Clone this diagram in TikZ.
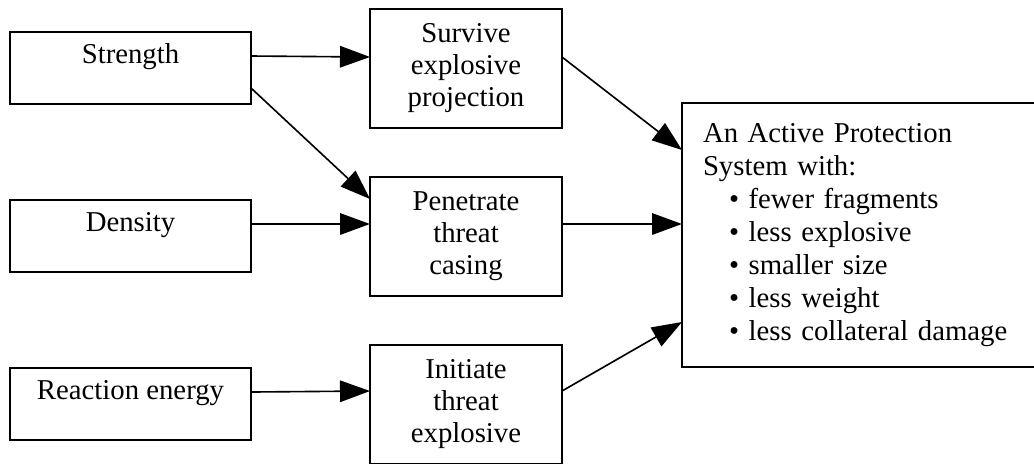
\documentclass[tikz,border=0pt]{standalone}
\usepackage{fontspec}
\setmainfont{Liberation Serif}
\usetikzlibrary{arrows.meta}
\newlength{\px}
\setlength{\px}{0.4pt}

\begin{document}
\begin{tikzpicture}[x=0.4pt, y=-0.4pt, >={Triangle[length=12pt, width=8.6pt]},
  factor/.style={draw, line width=0.8pt, anchor=north west, inner sep=0pt, outer sep=0pt,
    minimum width=241\px, text height=31\px, text depth=41\px,
    font=\fontsize{11.5}{12.8}\selectfont},
  effect/.style={draw, line width=0.8pt, anchor=north west, inner sep=0pt, outer sep=0pt,
    minimum width=192\px, minimum height=119\px, align=center,
    font=\fontsize{11.5}{12.8}\selectfont},
  outcome/.style={draw, line width=0.8pt, anchor=north west, inner xsep=21\px,
    inner ysep=0pt, outer sep=0pt, text width=340\px, minimum height=264\px,
    align=left, font=\fontsize{11.5}{13.2}\selectfont},
  link/.style={->, line width=0.65pt}]

  % page frame (pixels of the original drawing)
  \useasboundingbox (0,0) rectangle (1034,463);

  % material properties (left column)
  \node[factor] (strength) at (10,32)  {Strength};
  \node[factor] (density)  at (10,200) {Density};
  \node[factor] (reaction) at (10,368) {Reaction energy};

  % what the fragment must do (middle column)
  \node[effect] (survive)   at (370,9)   {Survive\\explosive\\projection};
  \node[effect] (penetrate) at (370,177) {Penetrate\\threat\\casing};
  \node[effect] (initiate)  at (370,345) {Initiate\\threat\\explosive};

  % resulting system (right)
  \node[outcome] (aps) at (682,103)
    {An Active Protection\\
     System with:\\
     \hspace*{26\px}\textbullet{} fewer fragments\\
     \hspace*{26\px}\textbullet{} less explosive\\
     \hspace*{26\px}\textbullet{} smaller size\\
     \hspace*{26\px}\textbullet{} less weight\\
     \hspace*{26\px}\textbullet{} less collateral damage};

  % left -> middle
  \draw[link] ([yshift=12\px]strength.east) -- ([yshift=11.5\px]survive.west);
  \draw[link] ([yshift=-20\px]strength.east) -- ([yshift=37.5\px]penetrate.west);
  \draw[link] ([yshift=12\px]density.east) -- ([yshift=12.5\px]penetrate.west);
  \draw[link] ([yshift=12\px]reaction.east) -- ([yshift=13.5\px]initiate.west);

  % middle -> right
  \draw[link] ([yshift=11.5\px]survive.east) -- ([yshift=85\px]aps.west);
  \draw[link] ([yshift=12.5\px]penetrate.east) -- ([yshift=11\px]aps.west);
  \draw[link] ([yshift=13.5\px]initiate.east) -- ([yshift=-87\px]aps.west);

\end{tikzpicture}
\end{document}
